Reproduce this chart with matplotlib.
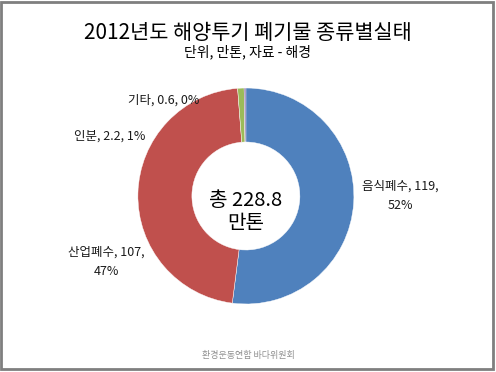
import matplotlib
matplotlib.use('Agg')
import matplotlib.pyplot as plt
from matplotlib.patches import Rectangle

plt.rcParams['font.family'] = ['Noto Sans CJK KR', 'DejaVu Sans']

# 데이터
names = ['음식폐수', '산업폐수', '인분', '기타']
values = [119, 107, 2.2, 0.6]
pcts = ['52%', '47%', '1%', '0%']
colors = ['#4F81BD', '#C0504D', '#9BBB59', '#8064A2']
total = 228.8

fig = plt.figure(figsize=(4.96, 3.72), dpi=100)
ax = fig.add_axes([0.278, 0.1828, 0.4355, 0.5806])

ax.pie(values, colors=colors, startangle=90, counterclock=False, radius=1,
       wedgeprops=dict(width=0.5, edgecolor='white', linewidth=0.3))
ax.set_xlim(-1, 1)
ax.set_ylim(-1, 1)
ax.set_aspect('equal')
ax.axis('off')

# 라벨
lab = [
    (f'{names[0]}, {values[0]:g},\n{pcts[0]}', 1.43, 0.0),
    (f'{names[1]}, {values[1]:g},\n{pcts[1]}', -1.29, -0.61),
    (f'{names[2]}, {values[2]:g}, {pcts[2]}', -1.26, 0.55),
    (f'{names[3]}, {values[3]:g}, {pcts[3]}', -0.76, 0.89),
]
for s, x, y in lab:
    ax.text(x, y, s, ha='center', va='center', fontsize=9, color='#1a1a1a',
            linespacing=1.6, clip_on=False)

ax.text(0, -0.15, f'총 {total}\n만톤', ha='center', va='center', fontsize=14.5,
        color='black', linespacing=1.1)

fig.text(0.5, 0.91, '2012년도 해양투기 폐기물 종류별실태', ha='center', va='center',
         fontsize=15, color='black')
fig.text(0.5, 0.86, '단위, 만톤, 자료 - 해경', ha='center', va='center',
         fontsize=10, color='black')
fig.text(0.5, 0.045, '환경운동연합 바다위원회', ha='center', va='center',
         fontsize=6.5, color='#909090')

# 테두리
fig.patches.append(Rectangle((0.003, 0.008), 0.991, 0.987, transform=fig.transFigure,
                             fill=False, edgecolor='#7f7f7f', linewidth=2))

fig.savefig('out.png', dpi=100)
